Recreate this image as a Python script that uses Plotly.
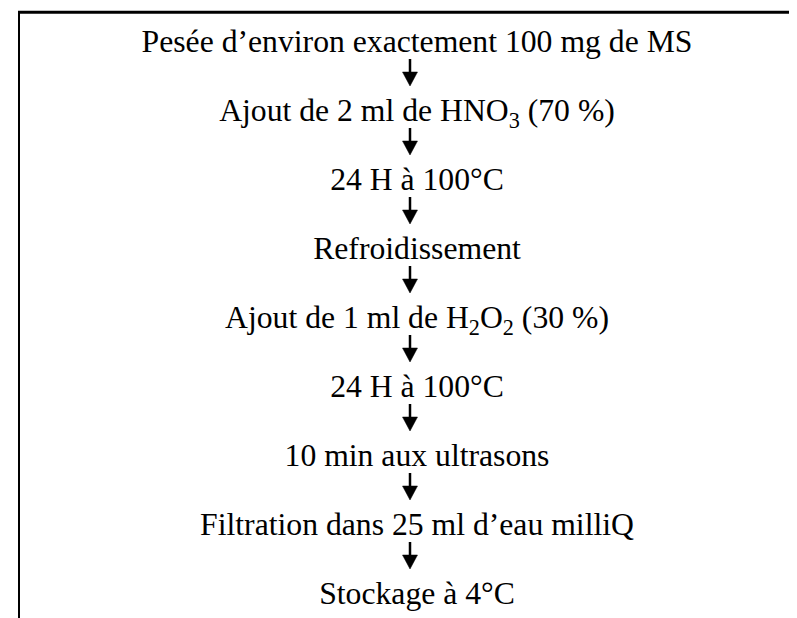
import plotly.graph_objects as go

# Flowchart content
steps = [
    "Pesée d’environ exactement 100 mg de MS",
    "Ajout de 2 ml de HNO<sub>3</sub> (70 %)",
    "24 H à 100°C",
    "Refroidissement",
    "Ajout de 1 ml de H<sub>2</sub>O<sub>2</sub> (30 %)",
    "24 H à 100°C",
    "10 min aux ultrasons",
    "Filtration dans 25 ml d’eau milliQ",
    "Stockage à 4°C",
]

W, H = 797, 618
row0 = 36.0      # centre of first row (px from top)
pitch = 69.0     # spacing between rows
text_x = 409.0
arrow_x = 402.0
arrow_top_off = 15.0
line_len = 13.0
head_len = 14.0
head_half = 7.5

row_y = [row0 + i * pitch for i in range(len(steps))]

fig = go.Figure()

# text rows
fig.add_trace(go.Scatter(
    x=[text_x] * len(steps), y=row_y, mode="text", text=steps,
    textposition="middle center",
    textfont=dict(family="Liberation Serif", size=31.7, color="black"),
    hoverinfo="skip", showlegend=False,
))

# arrows between rows
lx, ly, tx, ty = [], [], [], []
for i in range(len(steps) - 1):
    top = row_y[i] + arrow_top_off
    mid = top + line_len
    bot = mid + head_len
    lx += [arrow_x, arrow_x, None]
    ly += [top, mid + 1, None]
    tx += [arrow_x - head_half, arrow_x + head_half, arrow_x, arrow_x - head_half, None]
    ty += [mid, mid, bot, mid, None]

fig.add_trace(go.Scatter(x=lx, y=ly, mode="lines", line=dict(color="black", width=2.5),
                         hoverinfo="skip", showlegend=False))
fig.add_trace(go.Scatter(x=tx, y=ty, mode="lines", fill="toself", fillcolor="black",
                         line=dict(color="black", width=0.5),
                         hoverinfo="skip", showlegend=False))

# frame: top and left borders
fig.add_shape(type="line", x0=10, x1=W, y0=4.3, y1=4.3, line=dict(color="black", width=3))
fig.add_shape(type="line", x0=11, x1=11, y0=3, y1=H, line=dict(color="black", width=2))

fig.update_layout(
    width=W, height=H,
    margin=dict(l=0, r=0, t=0, b=0),
    paper_bgcolor="white", plot_bgcolor="white",
    xaxis=dict(range=[0, W], visible=False, fixedrange=True),
    yaxis=dict(range=[H, 0], visible=False, fixedrange=True),
)

fig.write_html("out.html")
